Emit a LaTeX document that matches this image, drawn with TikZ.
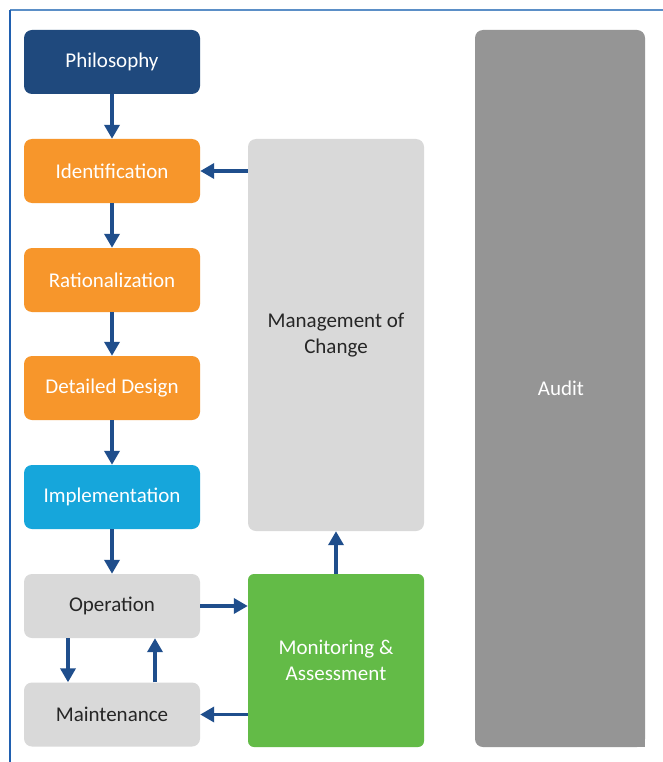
\documentclass[tikz,border=0pt]{standalone}
\usepackage{fontspec}
\setmainfont{Carlito}
\usetikzlibrary{arrows.meta}
\definecolor{philo}{HTML}{1F497D}
\definecolor{orng}{HTML}{F7962B}
\definecolor{impl}{HTML}{16A6DB}
\definecolor{lgray}{HTML}{D9D9D9}
\definecolor{green}{HTML}{63BB47}
\definecolor{audit}{HTML}{959595}
\definecolor{arrowc}{HTML}{1F4E8C}
\definecolor{txtd}{HTML}{262626}
\definecolor{bordertop}{HTML}{5B8FC7}
\definecolor{borderleft}{HTML}{2060B0}
\begin{document}
\begin{tikzpicture}[x=1pt,y=-1pt,
  box/.style={rounded corners=8pt,minimum width=176pt,minimum height=64pt,inner sep=0pt,align=center,font=\fontsize{21}{25}\selectfont},
  darkbox/.style={box,fill=philo,text=white},
  orangebox/.style={box,fill=orng,text=white},
  implbox/.style={box,fill=impl,text=white},
  graybox/.style={box,fill=lgray,text=txtd},
  conn/.style={draw=arrowc,line width=3.5pt,-{Triangle[length=14pt,width=15pt]}}
]
\useasboundingbox (0,0) rectangle (663,762);
\fill[white] (0,0) rectangle (663,762);
\draw[bordertop,line width=1.5pt] (10,10) -- (663,10);
\draw[borderleft,line width=1.5pt] (10,10) -- (10,762);
% Audit box (cut at right)
\fill[audit,rounded corners=8pt] (475,30) rectangle (645,747);
\fill[audit] (610,700) rectangle (645,747);
\node[text=white,font=\fontsize{21}{25}\selectfont] (audit) at (561,388) {Audit};
\node[darkbox] (phil) at (112,62) {Philosophy};
\node[orangebox] (ident) at (112,171) {Identification};
\node[orangebox] (ratio) at (112,280) {Rationalization};
\node[orangebox] (design) at (112,388) {Detailed Design};
\node[implbox] (impl) at (112,497) {Implementation};
\node[graybox] (oper) at (112,606) {Operation};
\node[graybox] (maint) at (112,714.5) {Maintenance};
\node[graybox,minimum height=392pt] (moc) at (336,335) {Management of\\[1pt]Change};
\node[box,fill=green,text=white,minimum height=173pt,rounded corners=6pt] (mon) at (336,660.5) {Monitoring \&\\[1pt]Assessment};
\draw[conn] (phil) -- (ident);
\draw[conn] (ident) -- (ratio);
\draw[conn] (ratio) -- (design);
\draw[conn] (design) -- (impl);
\draw[conn] (impl) -- (oper);
\draw[conn] (moc.west |- ident) -- (ident);
\draw[conn] (mon) -- (moc);
\draw[conn] (oper) -- (oper -| mon.west);
\draw[conn] (mon.west |- maint) -- (maint);
\draw[conn] ([xshift=-44pt]oper.south) -- ([xshift=-44pt]maint.north);
\draw[conn] ([xshift=43pt]maint.north) -- ([xshift=43pt]oper.south);
\end{tikzpicture}
\end{document}
